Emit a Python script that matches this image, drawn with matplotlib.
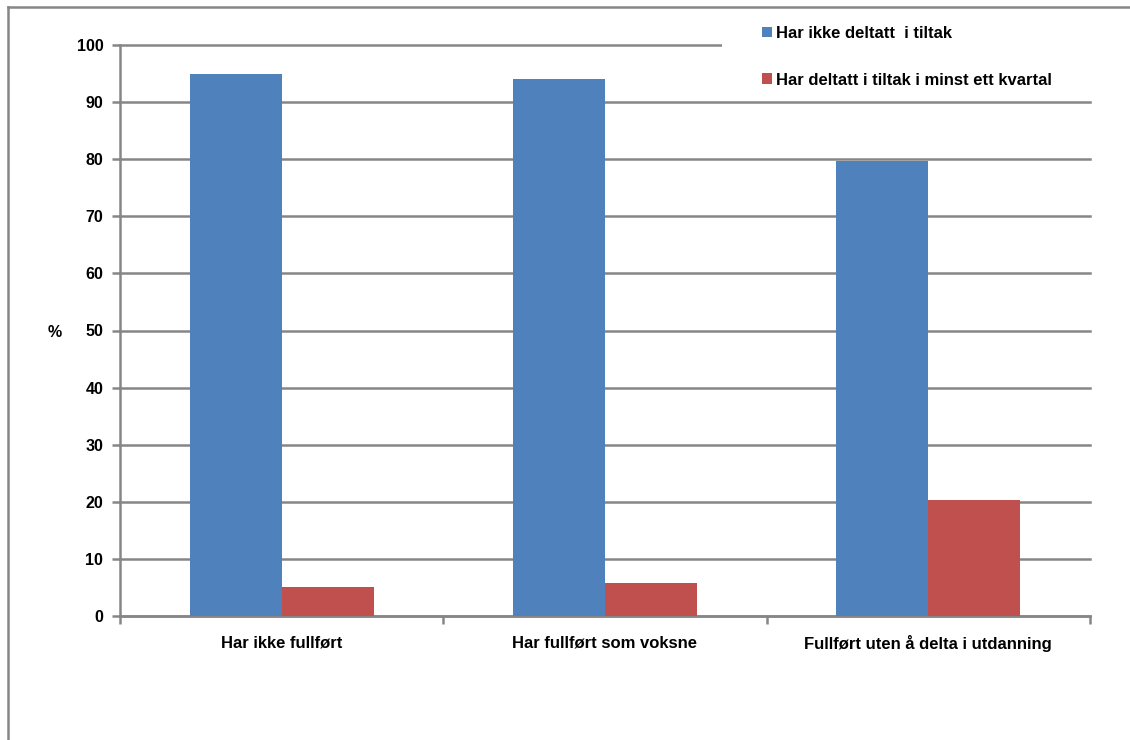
import matplotlib
matplotlib.use("Agg")
import matplotlib.pyplot as plt
import numpy as np
from matplotlib.patches import Rectangle
from matplotlib.lines import Line2D

categories = ["Har ikke fullført", "Har fullført som voksne", "Fullført uten å delta i utdanning"]
series_names = ["Har ikke deltatt  i tiltak", "Har deltatt i tiltak i minst ett kvartal"]
not_participated = [94.9, 94.0, 79.7]
participated = [5.1, 5.8, 20.3]
yticks = [0, 10, 20, 30, 40, 50, 60, 70, 80, 90, 100]

plt.rcParams['font.family'] = ['Liberation Sans', 'DejaVu Sans']
plt.rcParams['font.weight'] = 'bold'

W, H = 1130, 740
fig = plt.figure(figsize=(W / 100, H / 100), dpi=100)
ax = fig.add_axes([120 / W, 1 - 616 / H, (1090 - 120) / W, (616 - 45) / H])

grey = "#868686"
blue = "#4F81BD"
red = "#C0504D"

x = np.arange(len(categories))
bw = 0.285
ax.bar(x - bw / 2, not_participated, width=bw, color=blue, zorder=3, label=series_names[0])
ax.bar(x + bw / 2, participated, width=bw, color=red, zorder=3, label=series_names[1])

ax.set_xlim(-0.5, len(categories) - 0.5)
ax.set_ylim(0, 100)
ax.set_yticks(yticks)
ax.set_yticklabels([str(v) for v in yticks], fontsize=11.5, fontweight='bold')
ax.set_xticks(x)
ax.set_xticklabels(categories, fontsize=12, fontweight='bold')
ax.tick_params(axis='x', length=0, pad=14)
ax.set_xticks(np.arange(-0.5, len(categories), 1.0), minor=True)
ax.tick_params(axis='x', which='minor', length=6, width=1.8, color=grey, direction='out')
ax.tick_params(axis='y', length=6, width=1.8, color=grey, direction='out', pad=6)

ax.yaxis.grid(True, color=grey, linewidth=1.8, zorder=0)
for gl in ax.get_ygridlines():
    gl.set_clip_on(False)
ax.set_axisbelow(True)
for s in ['top', 'right']:
    ax.spines[s].set_visible(False)
for s in ['left', 'bottom']:
    ax.spines[s].set_color(grey)
    ax.spines[s].set_linewidth(1.8)

fig.text(55 / W, 1 - 332 / H, "%", fontsize=11.5, fontweight='bold', ha='center', va='center')

# outer frame
fig.add_artist(Line2D([8 / W, 8 / W], [0, 1 - 7 / H], color=grey, linewidth=1.8))
fig.add_artist(Line2D([8 / W, 1], [1 - 7 / H, 1 - 7 / H], color=grey, linewidth=1.8))

# legend background covering gridline
fig.add_artist(Rectangle((722 / W, 1 - 96 / H), (1128 - 722) / W, (96 - 12) / H,
                         transform=fig.transFigure, facecolor='white', edgecolor='none', zorder=5))

leg = fig.legend(loc='upper left', bbox_to_anchor=(762 / W, 1 - 26 / H), frameon=False,
                 fontsize=12, handlelength=0.6, handleheight=0.6, handletextpad=0.25,
                 labelspacing=1.9, borderaxespad=0, borderpad=0)
leg.set_zorder(6)
for t in leg.get_texts():
    t.set_fontweight('bold')

fig.savefig("out.png", dpi=100, facecolor='white')
